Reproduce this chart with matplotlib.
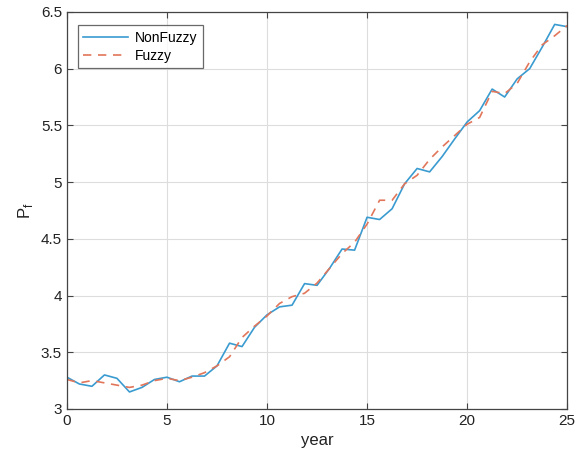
import numpy as np
import matplotlib
matplotlib.use("Agg")
import matplotlib.pyplot as plt

plt.rcParams['font.family'] = ['Liberation Sans', 'DejaVu Sans']

year = np.arange(41) * 0.625

nonfuzzy = [3.28, 3.22, 3.20, 3.30, 3.27, 3.15, 3.19, 3.26, 3.28, 3.24,
            3.29, 3.29, 3.38, 3.58, 3.55, 3.72, 3.83, 3.90, 3.915, 4.105,
            4.09, 4.24, 4.41, 4.40, 4.69, 4.67, 4.765, 4.985, 5.12, 5.09,
            5.225, 5.38, 5.53, 5.63, 5.82, 5.75, 5.91, 6.00, 6.19, 6.39, 6.37]

fuzzy = [3.26, 3.23, 3.25, 3.23, 3.21, 3.19, 3.21, 3.25, 3.27, 3.25,
         3.28, 3.32, 3.38, 3.46, 3.63, 3.73, 3.82, 3.93, 3.99, 4.02,
         4.11, 4.24, 4.37, 4.47, 4.63, 4.84, 4.84, 4.985, 5.06, 5.20,
         5.31, 5.41, 5.51, 5.57, 5.80, 5.78, 5.87, 6.06, 6.21, 6.29, 6.38]

fig = plt.figure(figsize=(5.77, 4.59), dpi=100)
ax = fig.add_axes([0.116, 0.109, 0.867, 0.865])

ax.plot(year, nonfuzzy, color='#3A9BD0', lw=1.2, label='NonFuzzy')
ax.plot(year, fuzzy, color='#E2765A', lw=1.2, ls=(0, (5, 4)), label='Fuzzy')

ax.set_xlim(0, 25)
ax.set_ylim(3, 6.5)
ax.set_xticks([0, 5, 10, 15, 20, 25])
ax.set_yticks([3, 3.5, 4, 4.5, 5, 5.5, 6, 6.5])
ax.set_yticklabels(['3', '3.5', '4', '4.5', '5', '5.5', '6', '6.5'])
ax.grid(True, color='#DDDDDD', lw=0.8)
ax.set_axisbelow(True)
for s in ax.spines.values():
    s.set_color('#444444')
    s.set_linewidth(0.9)
ax.tick_params(direction='in', length=4, color='#444444', labelsize=11,
               labelcolor='#222222', top=True, right=True)
ax.set_xlabel('year', fontsize=12, color='#222222')
ax.set_ylabel(r'P$_\mathregular{f}$', fontsize=12, color='#222222')

leg = ax.legend(loc='upper left', bbox_to_anchor=(0.022, 0.967), borderaxespad=0,
                fontsize=10, frameon=True, fancybox=False, edgecolor='#444444',
                handlelength=3.2, handletextpad=0.5, borderpad=0.4,
                labelspacing=0.3)
leg.get_frame().set_linewidth(0.9)

fig.savefig('out.png', dpi=100)
